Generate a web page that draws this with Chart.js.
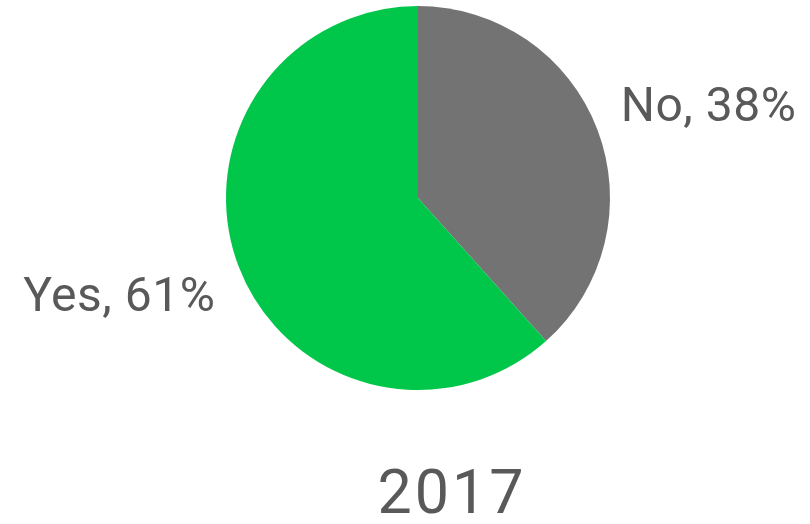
<!DOCTYPE html>
<html>
<head>
<meta charset="utf-8">
<script src="https://cdn.jsdelivr.net/npm/chart.js@4.4.0/dist/chart.umd.min.js"></script>
<style>
  html, body { margin: 0; padding: 0; background: #fff; }
  #wrap { width: 810px; height: 524px; position: relative; }
</style>
</head>
<body>
<div id="wrap"><canvas id="chart"></canvas></div>
<script>
// data
const categories = ['No', 'Yes'];
const shares = [38, 61];
const sliceColors = ['#737373', '#00c74a'];
const chartTitle = '2017';

const textColor = '#595959';
const fontFamily = 'Roboto, "Noto Sans", sans-serif';

// draws "Label, NN%" beside each slice and the year under the pie
const outsideLabels = {
    id: 'outsideLabels',
    afterDraw(chart) {
        const ctx = chart.ctx;
        const meta = chart.getDatasetMeta(0);
        ctx.save();
        ctx.fillStyle = textColor;
        ctx.font = '48px ' + fontFamily;
        ctx.letterSpacing = '0.5px';
        meta.data.forEach((arc, i) => {
            const p = arc.getProps(['x', 'y', 'startAngle', 'endAngle', 'outerRadius'], true);
            const mid = (p.startAngle + p.endAngle) / 2;
            const r = p.outerRadius + 25;
            const x = p.x + Math.cos(mid) * r;
            const y = p.y + Math.sin(mid) * r;
            const right = Math.cos(mid) >= 0;
            ctx.textAlign = right ? 'left' : 'right';
            ctx.textBaseline = right ? 'alphabetic' : 'top';
            ctx.fillText(categories[i] + ', ' + shares[i] + '%', x, y);
        });
        // year caption
        const area = chart.chartArea;
        ctx.font = '61px ' + fontFamily;
        ctx.letterSpacing = '3px';
        ctx.textAlign = 'center';
        ctx.textBaseline = 'alphabetic';
        ctx.fillText(chartTitle, (area.left + area.right) / 2 + 34, area.bottom + 123);
        ctx.restore();
    }
};

new Chart(document.getElementById('chart'), {
    type: 'pie',
    data: {
        labels: categories,
        datasets: [{
            data: shares,
            backgroundColor: sliceColors,
            borderWidth: 0
        }]
    },
    options: {
        responsive: true,
        maintainAspectRatio: false,
        animation: false,
        layout: { padding: { top: 6, bottom: 134, left: 26, right: 0 } },
        plugins: {
            legend: { display: false },
            tooltip: { enabled: false }
        }
    },
    plugins: [outsideLabels]
});
</script>
</body>
</html>
